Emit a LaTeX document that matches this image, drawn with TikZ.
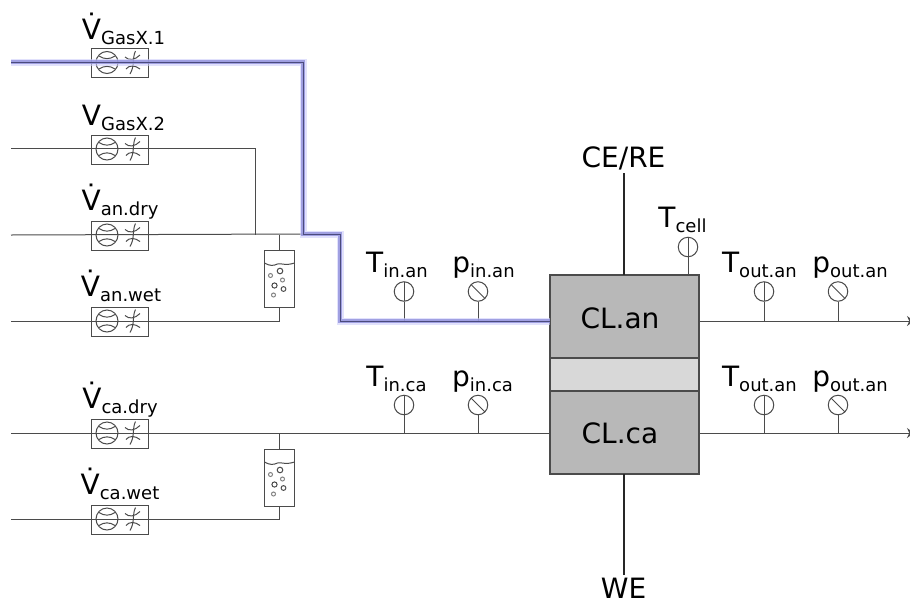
\documentclass[tikz,border=0pt]{standalone}
\usepackage{fontspec}
\setmainfont{DejaVu Sans}
\usepackage{tikz}
\usetikzlibrary{positioning, arrows.meta}

\definecolor{linegray}{RGB}{75,75,75}
\definecolor{cellgray}{RGB}{184,184,184}
\definecolor{gapgray}{RGB}{216,216,216}
\definecolor{coreblue}{RGB}{75,75,125}
\definecolor{flowblue}{RGB}{145,145,220}
\definecolor{haloblue}{RGB}{205,205,250}

% main letter with a smaller subscript
\newcommand{\qty}[2]{#1\raisebox{-5pt}{\fontsize{18}{18}\selectfont #2}}

\begin{document}
\begin{tikzpicture}[x=1pt, y=-1pt, line width=1pt]
    % Define styles
    \tikzstyle{pipe} = [draw=linegray, line width=1pt]
    \tikzstyle{sensor} = [circle, draw=linegray, fill=white, minimum size=19.5pt, inner sep=0pt]
    \tikzstyle{tsensor} = [sensor, path picture={\draw[linegray] (path picture bounding box.north) -- (path picture bounding box.south);}]
    \tikzstyle{psensor} = [sensor, path picture={\draw[linegray] (path picture bounding box.north west) -- (path picture bounding box.south east);}]
    \tikzstyle{qlabel} = [anchor=base, inner sep=0pt, font=\fontsize{28}{28}\selectfont]
    \tikzstyle{cell} = [rectangle, draw=linegray, line width=1.2pt, fill=cellgray, minimum width=149pt, minimum height=83pt, inner sep=0pt, outer sep=0pt]
    \tikzstyle{wire} = [draw=black!85, line width=2pt]
    \tikzstyle{flowbox} = [rectangle, draw=linegray, minimum width=57pt, minimum height=29pt, inner sep=0pt]
    \tikzstyle{bubblebox} = [rectangle, draw=linegray, minimum width=30pt, minimum height=57pt, inner sep=0pt]
    \tikzstyle{outtip} = [-{Stealth[length=7pt,width=10pt]}]

    \tikzset{
        flowmeter/.pic={
            \node [flowbox] (box) at (0,0) {};
            \draw [linegray] (-13,-0.5) circle (11);
            \draw [linegray] (-21,-7) .. controls (-16,-3.5) and (-10,-3.5) .. (-5,-7);
            \draw [linegray] (-21,6) .. controls (-16,2.5) and (-10,2.5) .. (-5,6);
            \draw [linegray] (15.5,-12) .. controls (12,-5) and (15,3) .. (10,11);
            \draw [linegray] (5,-6) .. controls (9,-2) and (15,-3) .. (20,-8);
            \draw [linegray] (6,6) .. controls (9,2) and (15,2) .. (20,6);
        },
        bubbler/.pic={
            \node [bubblebox] (box) at (0,0) {};
            \draw [linegray] (-15,-16) .. controls (-10,-13) and (-6,-13) .. (-2,-15) .. controls (2,-16) and (6,-13) .. (15,-16);
            \draw [linegray] (0.5,-8) circle (2.8);
            \draw [linegray!70] (-9,-3.5) circle (2);
            \draw [linegray!70] (3,1) circle (2);
            \draw [linegray] (-5,6.5) circle (2.6);
            \draw [linegray] (4,10) circle (2.4);
            \draw [linegray!70] (-6,16) circle (2);
        }
    }

    \useasboundingbox (0,0) rectangle (910,600);

    % Place nodes
    \coordinate (in1) at (11,62);
    \coordinate (in2) at (11,148);
    \coordinate (in3) at (11,235);
    \coordinate (in4) at (11,321);
    \coordinate (in5) at (11,433);
    \coordinate (in6) at (11,519);
    \coordinate (out1) at (914,321);
    \coordinate (out2) at (914,433);

    \coordinate (bend1) at (303,62);
    \coordinate (bend2) at (303,234);
    \coordinate (bend3) at (340,234);
    \coordinate (bend4) at (340,321);
    \coordinate (join2) at (255,235);
    \coordinate (bend5) at (255,148);

    % Cell stack
    \node [cell] (an) at (624.5,316.5) {};
    \node [cell, minimum height=33pt, fill=gapgray, below=0pt of an] (gap) {};
    \node [cell, below=0pt of gap] (ca) {};
    \node [qlabel] (anlabel) at (620,328) {CL.an};
    \node [qlabel] (calabel) at (620,443) {CL.ca};
    \node [qlabel] (cere) at (623.5,167) {CE/RE};
    \node [qlabel] (we) at (623.5,598) {WE};
    \coordinate (ceretop) at (623.7,173);
    \coordinate (webot) at (623.7,575);
    \coordinate (anin) at (an.west |- bend4);
    \coordinate (anout) at (an.east |- out1);
    \coordinate (cain) at (ca.west |- out2);
    \coordinate (caout) at (ca.east |- out2);

    % Draw edges
    \path [pipe] (in2) -- (bend5) -- (join2);
    \path [pipe] (in3) -- (bend2);
    \path [pipe] (in5) -- (cain);
    \path [pipe, outtip] (anout) -- (out1);
    \path [pipe, outtip] (caout) -- (out2);

    % Flow meters
    \pic (fma) at (120,63) {flowmeter};
    \pic (fmb) at (120,149.5) {flowmeter};
    \pic (fmc) at (120,235.5) {flowmeter};
    \pic (fmd) at (120,321.5) {flowmeter};
    \pic (fme) at (120,433.5) {flowmeter};
    \pic (fmf) at (120,519.5) {flowmeter};

    \node [qlabel] (vgasa) at (123.5,39) {\qty{V̇}{GasX.1}};
    \node [qlabel] (vgasb) at (123.5,125) {\qty{V}{GasX.2}};
    \node [qlabel] (vandry) at (120,210) {\qty{V̇}{an.dry}};
    \node [qlabel] (vanwet) at (121,296) {\qty{V̇}{an.wet}};
    \node [qlabel] (vcadry) at (120,408) {\qty{V̇}{ca.dry}};
    \node [qlabel] (vcawet) at (120,494) {\qty{V̇}{ca.wet}};

    % Bubblers
    \pic (bua) at (279.5,279) {bubbler};
    \pic (bub) at (279.5,478) {bubbler};
    \path [pipe] (buabox.north) -- (buabox.north |- in3);
    \path [pipe] (bubbox.north) -- (bubbox.north |- in5);
    \path [pipe] (buabox.south) -- (buabox.south |- in4) -- (in4);
    \path [pipe] (bubbox.south) -- (bubbox.south |- in6) -- (in6);

    % Sensors
    \node [tsensor] (tinan) at (404,291.5) {};
    \node [psensor] (pinan) at (478,291.5) {};
    \node [tsensor] (tinca) at (404,405) {};
    \node [psensor] (pinca) at (478,405) {};
    \node [tsensor] (tcell) at (688,247) {};
    \node [tsensor] (toutan) at (764,291.5) {};
    \node [psensor] (poutan) at (838,291.5) {};
    \node [tsensor] (toutca) at (764,405) {};
    \node [psensor] (poutca) at (838,405) {};

    \path [pipe] (tinan) -- (tinan |- in4);
    \path [pipe] (pinan) -- (pinan |- in4);
    \path [pipe] (tinca) -- (tinca |- in5);
    \path [pipe] (pinca) -- (pinca |- in5);
    \path [pipe] (tcell) -- (tcell |- an.north);
    \path [pipe] (toutan) -- (toutan |- in4);
    \path [pipe] (poutan) -- (poutan |- in4);
    \path [pipe] (toutca) -- (toutca |- in5);
    \path [pipe] (poutca) -- (poutca |- in5);

    \node [qlabel] (ltinan) at (397,272) {\qty{T}{in.an}};
    \node [qlabel] (lpinan) at (483.5,272) {\qty{p}{in.an}};
    \node [qlabel] (ltinca) at (396.5,386) {\qty{T}{in.ca}};
    \node [qlabel] (lpinca) at (482.5,386) {\qty{p}{in.ca}};
    \node [qlabel] (ltcell) at (682.5,227) {\qty{T}{cell}};
    \node [qlabel] (ltoutan) at (759.5,272) {\qty{T}{out.an}};
    \node [qlabel] (lpoutan) at (850,272) {\qty{p}{out.an}};
    \node [qlabel] (ltoutca) at (759.5,386) {\qty{T}{out.an}};
    \node [qlabel] (lpoutca) at (850,386) {\qty{p}{out.an}};

    % Electrode wires
    \path [wire] (ceretop) -- (ceretop |- an.north);
    \path [wire] (webot) -- (webot |- ca.south);

    % Highlighted gas path
    \draw [haloblue, line width=7pt, opacity=0.6] (in1) -- (bend1) -- (bend2) -- (bend3) -- (bend4) -- (anin);
    \draw [flowblue, line width=3.5pt, opacity=0.8] (in1) -- (bend1) -- (bend2) -- (bend3) -- (bend4) -- (anin);
    \draw [coreblue, line width=1pt] (in1) -- (bend1) -- (bend2) -- (bend3) -- (bend4) -- (anin);
\end{tikzpicture}
\end{document}
